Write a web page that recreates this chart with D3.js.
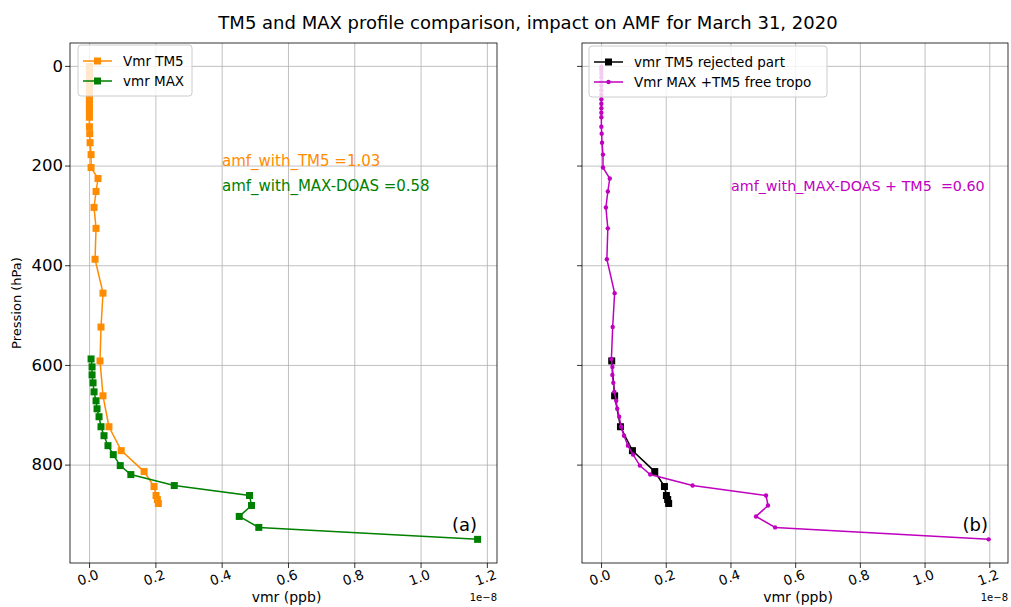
<!DOCTYPE html>
<html>
<head>
<meta charset="utf-8">
<script src="https://cdn.jsdelivr.net/npm/d3@7"></script>
<style>
  body { margin: 0; background: #fff; }
  svg text { font-family: "DejaVu Sans", sans-serif; white-space: pre; }
</style>
</head>
<body>
<div id="chart"></div>
<script>
// vmr values are in units of 1e-8 (axis offset "1e-8"), pressures in hPa
const tm5Pressure = [1.5, 5, 10, 16, 23, 31, 40, 49, 58, 67, 76, 85, 94, 103, 122, 136, 154, 178, 204, 226, 252, 284, 326, 388, 456, 524, 592, 662, 724, 772, 814, 844, 862, 870, 878];
const tm5Vmr = [0.001, 0.001, 0.001, 0.001, 0.001, 0.001, 0.001, 0.001, 0.001, 0.001, 0.001, 0.001, 0.001, 0.001, 0.001, 0.002, 0.003, 0.006, 0.006, 0.027, 0.021, 0.015, 0.021, 0.018, 0.042, 0.036, 0.033, 0.042, 0.060, 0.097, 0.166, 0.196, 0.202, 0.206, 0.209];

const maxPressure = [588, 604, 620, 636, 654, 672, 688, 704, 724, 742, 762, 780, 802, 820, 842, 862, 882, 904, 926, 950];
const maxVmr = [0.006, 0.009, 0.009, 0.012, 0.015, 0.021, 0.024, 0.030, 0.036, 0.045, 0.057, 0.073, 0.094, 0.126, 0.257, 0.484, 0.490, 0.453, 0.512, 1.172];

const rejectedPressure = [592, 662, 724, 772, 814, 844, 862, 870, 878];
const rejectedVmr = [0.033, 0.042, 0.060, 0.097, 0.166, 0.196, 0.202, 0.206, 0.209];

const combinedPressure = [1.5, 5, 10, 16, 23, 31, 40, 49, 58, 67, 76, 85, 94, 103, 122, 136, 154, 178, 204, 226, 252, 284, 326, 388, 456, 524,
  588, 604, 620, 636, 654, 672, 688, 704, 724, 742, 762, 780, 802, 820, 842, 862, 882, 904, 926, 950];
const combinedVmr = [0.001, 0.001, 0.001, 0.001, 0.001, 0.001, 0.001, 0.001, 0.001, 0.001, 0.001, 0.001, 0.001, 0.001, 0.001, 0.002, 0.003, 0.006, 0.006, 0.027, 0.021, 0.015, 0.021, 0.018, 0.042, 0.036,
  0.032, 0.035, 0.035, 0.038, 0.041, 0.047, 0.050, 0.056, 0.062, 0.071, 0.083, 0.099, 0.120, 0.152, 0.283, 0.510, 0.516, 0.479, 0.538, 1.198];

const xTicks = [0, 0.2, 0.4, 0.6, 0.8, 1.0, 1.2];
const yTicks = [0, 200, 400, 600, 800];

const titleText = "TM5 and MAX profile comparison, impact on AMF for March 31, 2020";

const zip = (ps, vs) => ps.map((p, i) => ({p: p, v: vs[i]}));

const panels = [
  {
    left: 70, right: 497, label: "(a)", showYLabels: true,
    series: [
      {name: "Vmr TM5", color: "#ff8c00", marker: "square", data: zip(tm5Pressure, tm5Vmr)},
      {name: "vmr MAX", color: "#008000", marker: "square", data: zip(maxPressure, maxVmr)}
    ],
    legend: {x: 78, y: 45, w: 114, h: 51},
    notes: [
      {text: "amf_with_TM5 =1.03", color: "#ff8c00", x: 222, y: 166, size: 15},
      {text: "amf_with_MAX-DOAS =0.58", color: "#008000", x: 222, y: 191, size: 15}
    ]
  },
  {
    left: 582, right: 1008, label: "(b)", showYLabels: false,
    series: [
      {name: "vmr TM5 rejected part", color: "#000000", marker: "square", data: zip(rejectedPressure, rejectedVmr)},
      {name: "Vmr MAX +TM5 free tropo", color: "#bf00bf", marker: "dot", data: zip(combinedPressure, combinedVmr)}
    ],
    legend: {x: 589, y: 46, w: 238, h: 51},
    notes: [
      {text: "amf_with_MAX-DOAS + TM5  =0.60", color: "#bf00bf", x: 731, y: 191, size: 14.3}
    ]
  }
];

const W = 1011, H = 607;
const plotTop = 43, plotBottom = 563;

const svg = d3.select("#chart").append("svg")
  .attr("width", W).attr("height", H);

// shared y scale (inverted pressure), 5% padding like matplotlib
const allP = tm5Pressure.concat(maxPressure, rejectedPressure, combinedPressure);
const pExt = d3.extent(allP);
const pPad = (pExt[1] - pExt[0]) * 0.05;
const y = d3.scaleLinear().domain([pExt[0] - pPad, pExt[1] + pPad]).range([plotTop, plotBottom]);

svg.append("text")
  .attr("x", 528).attr("y", 29)
  .attr("text-anchor", "middle")
  .style("font-size", "18px")
  .text(titleText);

svg.append("text")
  .attr("transform", `translate(21,${(plotTop + plotBottom) / 2}) rotate(-90)`)
  .attr("text-anchor", "middle")
  .style("font-size", "13px")
  .text("Pression (hPa)");

panels.forEach(panel => {
  const allV = panel.series.flatMap(s => s.data.map(d => d.v));
  const vExt = d3.extent(allV);
  const vPad = (vExt[1] - vExt[0]) * 0.05;
  const x = d3.scaleLinear().domain([vExt[0] - vPad, vExt[1] + vPad]).range([panel.left, panel.right]);

  const g = svg.append("g");

  // grid
  g.append("g")
    .attr("transform", `translate(0,${plotBottom})`)
    .call(d3.axisBottom(x).tickValues(xTicks).tickSize(-(plotBottom - plotTop)).tickFormat(""))
    .call(a => a.select(".domain").remove())
    .selectAll("line").attr("stroke", "#b0b0b0").attr("stroke-width", 0.8);
  g.append("g")
    .attr("transform", `translate(${panel.left},0)`)
    .call(d3.axisLeft(y).tickValues(yTicks).tickSize(-(panel.right - panel.left)).tickFormat(""))
    .call(a => a.select(".domain").remove())
    .selectAll("line").attr("stroke", "#b0b0b0").attr("stroke-width", 0.8);

  // series
  const line = d3.line().x(d => x(d.v)).y(d => y(d.p));
  panel.series.forEach(s => {
    g.append("path")
      .datum(s.data)
      .attr("fill", "none")
      .attr("stroke", s.color)
      .attr("stroke-width", 1.5)
      .attr("d", line);
    if (s.marker === "square") {
      g.selectAll(null).data(s.data).enter().append("rect")
        .attr("x", d => x(d.v) - 3.5).attr("y", d => y(d.p) - 3.5)
        .attr("width", 7).attr("height", 7)
        .attr("fill", s.color);
    } else {
      g.selectAll(null).data(s.data).enter().append("circle")
        .attr("cx", d => x(d.v)).attr("cy", d => y(d.p))
        .attr("r", 2.2)
        .attr("fill", s.color);
    }
  });

  // axes
  const xAxis = g.append("g")
    .attr("transform", `translate(0,${plotBottom})`)
    .call(d3.axisBottom(x).tickValues(xTicks).tickSize(5).tickFormat(d3.format(".1f")));
  xAxis.select(".domain").remove();
  xAxis.selectAll("line").attr("stroke", "#000").attr("stroke-width", 0.8);
  xAxis.selectAll("text")
    .style("font-size", "13.5px")
    .attr("fill", "#000")
    .attr("y", 0).attr("dy", 0)
    .attr("text-anchor", "middle")
    .attr("transform", "translate(0,19) rotate(-20)");

  const yAxis = g.append("g")
    .attr("transform", `translate(${panel.left},0)`)
    .call(d3.axisLeft(y).tickValues(yTicks).tickSize(5).tickFormat(panel.showYLabels ? d3.format("d") : ""));
  yAxis.select(".domain").remove();
  yAxis.selectAll("line").attr("stroke", "#000").attr("stroke-width", 0.8);
  yAxis.selectAll("text")
    .style("font-size", "16.5px")
    .attr("fill", "#000")
    .attr("x", -7);

  g.append("rect")
    .attr("x", panel.left).attr("y", plotTop)
    .attr("width", panel.right - panel.left).attr("height", plotBottom - plotTop)
    .attr("fill", "none").attr("stroke", "#000").attr("stroke-width", 0.8);

  g.append("text")
    .attr("x", (panel.left + panel.right) / 2 + 3).attr("y", 602)
    .attr("text-anchor", "middle")
    .style("font-size", "14px")
    .text("vmr (ppb)");

  g.append("text")
    .attr("x", panel.right).attr("y", 601)
    .attr("text-anchor", "end")
    .style("font-size", "10px")
    .text("1e\u22128");

  g.append("text")
    .attr("x", panel.right - 20).attr("y", 531)
    .attr("text-anchor", "end")
    .style("font-size", "18px")
    .text(panel.label);

  panel.notes.forEach(n => {
    g.append("text")
      .attr("x", n.x).attr("y", n.y)
      .attr("fill", n.color)
      .style("font-size", n.size + "px")
      .text(n.text);
  });

  // legend
  const L = panel.legend;
  const lg = g.append("g");
  lg.append("rect")
    .attr("x", L.x).attr("y", L.y).attr("width", L.w).attr("height", L.h)
    .attr("rx", 3)
    .attr("fill", "#fff").attr("fill-opacity", 0.8)
    .attr("stroke", "#cccccc").attr("stroke-width", 1);
  panel.series.forEach((s, i) => {
    const cy = L.y + 16 + i * 20;
    const x0 = L.x + 5, x1 = L.x + 34;
    lg.append("line")
      .attr("x1", x0).attr("x2", x1).attr("y1", cy).attr("y2", cy)
      .attr("stroke", s.color).attr("stroke-width", 1.5);
    if (s.marker === "square") {
      lg.append("rect")
        .attr("x", (x0 + x1) / 2 - 3.5).attr("y", cy - 3.5)
        .attr("width", 7).attr("height", 7).attr("fill", s.color);
    } else {
      lg.append("circle")
        .attr("cx", (x0 + x1) / 2).attr("cy", cy).attr("r", 2.2).attr("fill", s.color);
    }
    lg.append("text")
      .attr("x", L.x + 45).attr("y", cy + 5)
      .style("font-size", "13.5px")
      .text(s.name);
  });
});
</script>
</body>
</html>
